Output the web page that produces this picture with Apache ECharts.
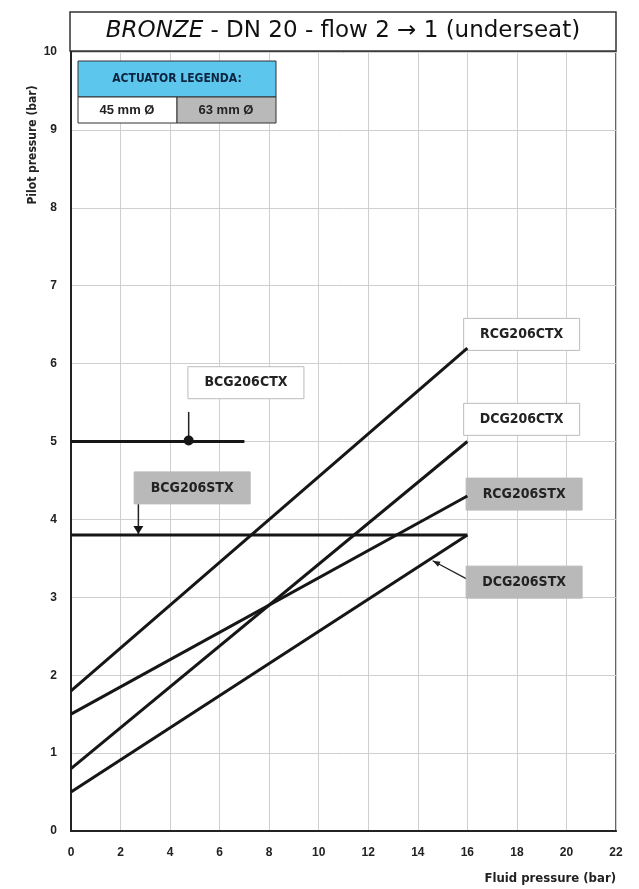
<!DOCTYPE html>
<html>
<head>
<meta charset="utf-8">
<script src="https://cdn.jsdelivr.net/npm/echarts@6/dist/echarts.min.js"></script>
<style>
  html, body { margin: 0; background: #fff; }
  #chart { width: 639px; height: 889px; }
</style>
</head>
<body>
<div id="chart"></div>
<script>
// axis ticks
const xTicks = [0, 2, 4, 6, 8, 10, 12, 14, 16, 18, 20, 22];
const yTicks = [0, 1, 2, 3, 4, 5, 6, 7, 8, 9, 10];

// valve curves: straight lines from (xStart, yStart) to (xEnd, yEnd)
const names  = ["RCG206CTX", "DCG206CTX", "RCG206STX", "DCG206STX", "BCG206CTX", "BCG206STX"];
const xStart = [0, 0, 0, 0, 0, 0];
const yStart = [1.8, 0.8, 1.5, 0.5, 5.0, 3.8];
const xEnd   = [16, 16, 16, 16, 7, 16];
const yEnd   = [6.2, 5.0, 4.3, 3.8, 5.0, 3.8];

// label boxes (top-left corner in data units) ; 63 mm actuators are shaded
const labelX     = [15.85, 15.85, 15.95, 15.95, 4.72, 2.55];
const labelY     = [6.58, 5.49, 4.53, 3.40, 5.96, 4.61];
const labelShade = [false, false, true, true, false, true];

const chart = echarts.init(document.getElementById("chart"));
const FONT = "Liberation Sans";
const NARROW = "'DejaVu Sans Condensed', 'Liberation Sans', sans-serif";

const series = names.map((n, i) => ({
  name: n,
  type: "line",
  data: [[xStart[i], yStart[i]], [xEnd[i], yEnd[i]]],
  symbol: "none",
  lineStyle: { color: "#161616", width: 3 },
  silent: true
}));

chart.setOption({
  animation: false,
  grid: {
    left: 71, right: 23, top: 52, bottom: 58,
    show: true, borderColor: "#333", borderWidth: 1.5
  },
  xAxis: {
    type: "value", min: 0, max: 22, interval: 2,
    axisLine: { lineStyle: { color: "#222", width: 2 } },
    axisTick: { show: false },
    axisLabel: { color: "#222", fontFamily: FONT, fontWeight: "bold", fontSize: 12, margin: 16,
      formatter: v => xTicks.includes(v) ? String(v) : "" },
    splitLine: { lineStyle: { color: "#cfcfcf", width: 1 } }
  },
  yAxis: {
    type: "value", min: 0, max: 10, interval: 1,
    axisLine: { lineStyle: { color: "#222", width: 2 } },
    axisTick: { show: false },
    axisLabel: { color: "#222", fontFamily: FONT, fontWeight: "bold", fontSize: 12, margin: 14,
      formatter: v => yTicks.includes(v) ? String(v) : "" },
    splitLine: { lineStyle: { color: "#cfcfcf", width: 1 } }
  },
  series: series
});

// annotations placed from data coordinates
const px = (x, y) => chart.convertToPixel({ gridIndex: 0 }, [x, y]);
const g = [];

// title box
g.push({
  type: "rect", shape: { x: 70, y: 12, width: 546, height: 39 },
  style: { fill: "#fff", stroke: "#333", lineWidth: 1.5 }
});
g.push({
  type: "text", x: 343, y: 31,
  style: {
    text: "{i|BRONZE} - DN 20 - flow 2 \u2192 1 (underseat)",
    font: "23px 'DejaVu Sans'", fill: "#111", align: "center", verticalAlign: "middle",
    rich: { i: { fontStyle: "italic", fontSize: 23, fontFamily: "DejaVu Sans" } }
  }
});

// actuator legend
g.push({ type: "rect", shape: { x: 78, y: 61, width: 198, height: 36 },
  style: { fill: "#5cc6ec", stroke: "#333", lineWidth: 1 } });
g.push({ type: "text", x: 177, y: 79,
  style: { text: "ACTUATOR LEGENDA:", font: "bold 12px " + NARROW, fill: "#0d2340",
    align: "center", verticalAlign: "middle" } });
g.push({ type: "rect", shape: { x: 78, y: 97, width: 99, height: 26 },
  style: { fill: "#fff", stroke: "#333", lineWidth: 1 } });
g.push({ type: "rect", shape: { x: 177, y: 97, width: 99, height: 26 },
  style: { fill: "#b9b9b9", stroke: "#333", lineWidth: 1 } });
g.push({ type: "text", x: 127, y: 110,
  style: { text: "45 mm \u00d8", font: "bold 13px " + FONT, fill: "#222", align: "center", verticalAlign: "middle" } });
g.push({ type: "text", x: 226, y: 110,
  style: { text: "63 mm \u00d8", font: "bold 13px " + FONT, fill: "#222", align: "center", verticalAlign: "middle" } });

// axis names
g.push({ type: "text", x: 33, y: 145, rotation: Math.PI / 2,
  style: { text: "Pilot pressure (bar)", font: "bold 12px " + NARROW, fill: "#222",
    align: "center", verticalAlign: "middle" } });
g.push({ type: "text", x: 616, y: 879,
  style: { text: "Fluid pressure (bar)", font: "bold 13px " + NARROW, fill: "#222",
    align: "right", verticalAlign: "middle" } });

// pointer leaders
const bctx = px(4.75, 5.0), bctxTop = px(4.75, 5.38);
g.push({ type: "line", shape: { x1: bctx[0], y1: bctxTop[1], x2: bctx[0], y2: bctx[1] },
  style: { stroke: "#222", lineWidth: 1.5 } });
g.push({ type: "circle", shape: { cx: bctx[0], cy: bctx[1] - 1, r: 5 },
  style: { fill: "#161616" } });
const bstx = px(2.72, 3.8), bstxTop = px(2.72, 4.2);
g.push({ type: "line", shape: { x1: bstx[0], y1: bstxTop[1], x2: bstx[0], y2: bstx[1] },
  style: { stroke: "#222", lineWidth: 1.5 } });
g.push({ type: "polygon", shape: { points: [[bstx[0] - 5, bstx[1] - 9], [bstx[0] + 5, bstx[1] - 9], [bstx[0], bstx[1] - 1]] },
  style: { fill: "#161616" } });
const dA = px(15.95, 3.24), dB = px(14.6, 3.47);
g.push({ type: "line", shape: { x1: dA[0], y1: dA[1], x2: dB[0], y2: dB[1] },
  style: { stroke: "#222", lineWidth: 1.2 } });
const ang = Math.atan2(dA[1] - dB[1], dA[0] - dB[0]);
const ah = (a) => [dB[0] + 8 * Math.cos(ang + a), dB[1] + 8 * Math.sin(ang + a)];
g.push({ type: "polygon", shape: { points: [[dB[0], dB[1]], ah(0.35), ah(-0.35)] }, style: { fill: "#222" } });

// label boxes
names.forEach((n, i) => {
  const p = px(labelX[i], labelY[i]);
  const w = 116, h = 32;
  g.push({ type: "rect", shape: { x: p[0], y: p[1], width: w, height: h },
    style: { fill: labelShade[i] ? "#b9b9b9" : "#fff", stroke: labelShade[i] ? "#b9b9b9" : "#bbb", lineWidth: 1 } });
  g.push({ type: "text", x: p[0] + w / 2, y: p[1] + h / 2,
    style: { text: n, font: "bold 14px " + NARROW, fill: "#222", align: "center", verticalAlign: "middle" } });
});

chart.setOption({ graphic: g });
</script>
</body>
</html>
